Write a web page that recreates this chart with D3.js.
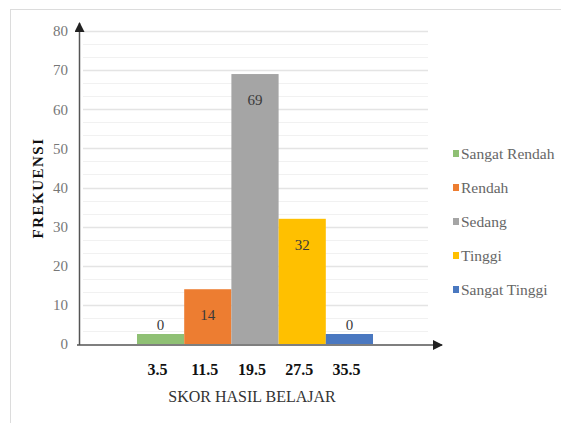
<!DOCTYPE html>
<html>
<head>
<meta charset="utf-8">
<script src="https://cdn.jsdelivr.net/npm/d3@7/dist/d3.min.js"></script>
<style>
  html, body { margin: 0; padding: 0; background: #fff; }
  svg { display: block; }
</style>
</head>
<body>
<svg id="chart" width="561" height="423"></svg>
<script>
// Score classes (x categories), their frequencies and legend names
const categories = ["3.5", "11.5", "19.5", "27.5", "35.5"];
const frequencies = [0, 14, 69, 32, 0];
const seriesNames = ["Sangat Rendah", "Rendah", "Sedang", "Tinggi", "Sangat Tinggi"];
const seriesColors = ["#8fc074", "#ed7d31", "#a5a5a5", "#ffc000", "#4a78c0"];
const yTicks = [0, 10, 20, 30, 40, 50, 60, 70, 80];

const svg = d3.select("#chart");
const SERIF = '"Liberation Serif"';

// page frame
svg.append("line").attr("x1", 10.5).attr("x2", 10.5).attr("y1", 9).attr("y2", 423)
  .attr("stroke", "#dcdcdc");
svg.append("line").attr("x1", 10).attr("x2", 561).attr("y1", 9.5).attr("y2", 9.5)
  .attr("stroke", "#dcdcdc");

const plot = { left: 79, right: 428, top: 31, bottom: 344 };

const y = d3.scaleLinear().domain([0, 80]).range([plot.bottom, plot.top]);
const x = d3.scaleBand().domain(categories).range([137, 373]).padding(0);

// minor gridlines (thirds of a major step)
const minor = d3.range(0, 80, 10 / 3).filter(v => Math.abs(v % 10) > 0.01 && Math.abs(v % 10 - 10) > 0.01);
svg.append("g").selectAll("line").data(minor).join("line")
  .attr("x1", plot.left + 4).attr("x2", plot.right)
  .attr("y1", d => Math.round(y(d)) + 0.5).attr("y2", d => Math.round(y(d)) + 0.5)
  .attr("stroke", "#f1f1f1");
// major gridlines
svg.append("g").selectAll("line").data(yTicks.filter(d => d > 0)).join("line")
  .attr("x1", plot.left + 4).attr("x2", plot.right)
  .attr("y1", d => Math.round(y(d)) + 0.5).attr("y2", d => Math.round(y(d)) + 0.5)
  .attr("stroke", "#e4e4e4").attr("stroke-width", 1.5);

// bars: zero-frequency classes keep a small stub so their colour remains visible
const stub = 10;
const bars = categories.map((c, i) => ({ c, v: frequencies[i], color: seriesColors[i] }));
svg.append("g").selectAll("rect").data(bars).join("rect")
  .attr("x", d => x(d.c))
  .attr("width", x.bandwidth())
  .attr("y", d => Math.min(y(d.v), plot.bottom - stub))
  .attr("height", d => Math.max(plot.bottom - y(d.v), stub))
  .attr("fill", d => d.color);

// value labels
svg.append("g").selectAll("text").data(bars).join("text")
  .attr("x", d => x(d.c) + x.bandwidth() / 2)
  .attr("y", d => d.v === 0 ? plot.bottom - stub - 4 : y(d.v) + 31)
  .attr("text-anchor", "middle")
  .style("font-family", SERIF).style("font-size", "15px")
  .attr("fill", "#3a3a3a")
  .text(d => d.v);

// axes with arrowheads
const defs = svg.append("defs");
defs.append("marker").attr("id", "arrow").attr("viewBox", "0 0 10 10")
  .attr("refX", 9).attr("refY", 5).attr("markerWidth", 10).attr("markerHeight", 10)
  .attr("markerUnits", "userSpaceOnUse").attr("orient", "auto")
  .append("path").attr("d", "M0,0 L10,5 L0,10 Z").attr("fill", "#222");

svg.append("line").attr("x1", 79.5).attr("x2", 79.5).attr("y1", plot.bottom + 1).attr("y2", 23)
  .attr("stroke", "#555").attr("stroke-width", 1.5).attr("marker-end", "url(#arrow)");
svg.append("line").attr("x1", 77).attr("x2", 442).attr("y1", plot.bottom + 1).attr("y2", plot.bottom + 1)
  .attr("stroke", "#555").attr("stroke-width", 1.5).attr("marker-end", "url(#arrow)");

// y tick labels
const yAxis = d3.axisLeft(y).tickValues(yTicks).tickSize(0).tickPadding(0);
const gy = svg.append("g").attr("transform", "translate(68,0)").call(yAxis);
gy.select(".domain").remove();
gy.selectAll("text").style("font-family", SERIF).style("font-size", "15px").attr("fill", "#777");

// x tick labels
const xAxis = d3.axisBottom(x).tickSize(0).tickPadding(0);
const gx = svg.append("g").attr("transform", "translate(-3,364)").call(xAxis);
gx.select(".domain").remove();
gx.selectAll("text").style("font-family", SERIF).style("font-size", "16px")
  .style("font-weight", "bold").attr("fill", "#111");

// axis titles
svg.append("text").attr("x", 252).attr("y", 402).attr("text-anchor", "middle")
  .style("font-family", SERIF).style("font-size", "16px").attr("fill", "#333")
  .text("SKOR HASIL  BELAJAR");
svg.append("text").attr("transform", "translate(43,188) rotate(-90)")
  .attr("text-anchor", "middle")
  .style("font-family", SERIF).style("font-size", "15px").style("font-weight", "bold")
  .style("letter-spacing", "1.5px").attr("fill", "#111")
  .text("FREKUENSI");

// legend
const legend = svg.append("g").selectAll("g").data(seriesNames).join("g")
  .attr("transform", (d, i) => `translate(453,${155 + i * 34})`);
legend.append("rect").attr("x", 0).attr("y", -5).attr("width", 6).attr("height", 7)
  .attr("fill", (d, i) => seriesColors[i]);
legend.append("text").attr("x", 8).attr("y", 4)
  .style("font-family", SERIF).style("font-size", "15.5px").attr("fill", "#666")
  .text(d => d);
</script>
</body>
</html>
